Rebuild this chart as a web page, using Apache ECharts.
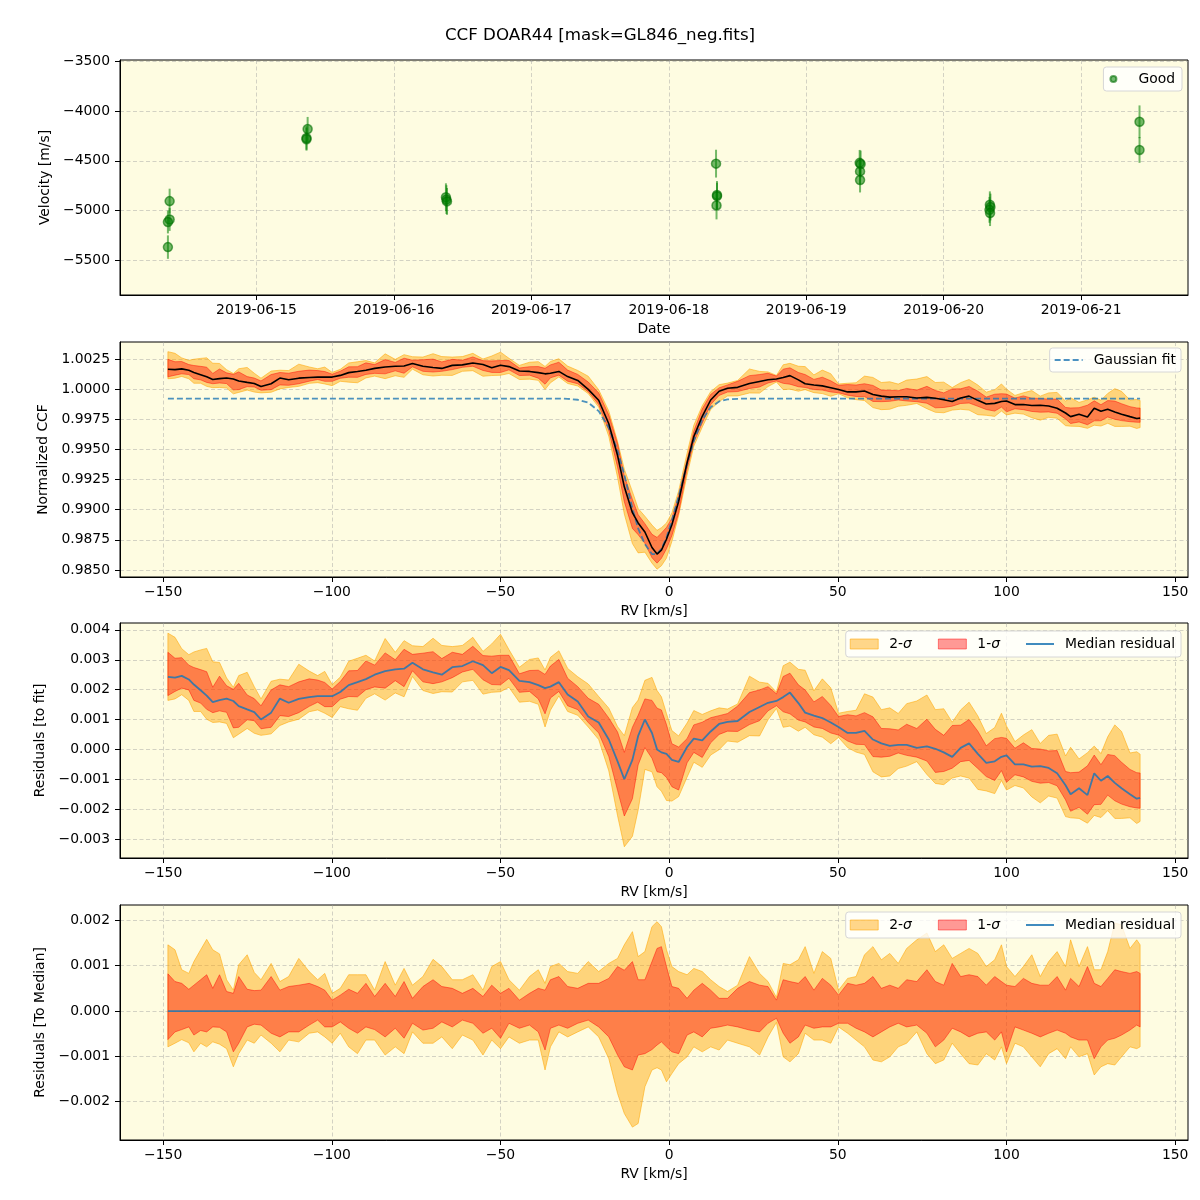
<!DOCTYPE html>
<html><head><meta charset="utf-8">
<script src="https://cdn.jsdelivr.net/npm/echarts@6/dist/echarts.min.js"></script>
<style>html,body{margin:0;padding:0;background:#fff}#c{width:1200px;height:1200px}</style>
</head><body><div id="c"></div>
<script>
// ---------- Panel 1: RV time series ----------
const RV_DATES = [
  '2019-06-14T08:50:00Z','2019-06-14T08:50:00Z','2019-06-14T08:32:00Z','2019-06-14T08:32:00Z',
  '2019-06-15T08:56:00Z','2019-06-15T08:44:00Z','2019-06-15T08:44:00Z',
  '2019-06-16T09:05:00Z','2019-06-16T09:10:00Z','2019-06-16T09:16:00Z',
  '2019-06-18T08:15:00Z','2019-06-18T08:25:00Z','2019-06-18T08:25:00Z','2019-06-18T08:20:00Z',
  '2019-06-19T09:20:00Z','2019-06-19T09:30:00Z','2019-06-19T09:24:00Z','2019-06-19T09:24:00Z',
  '2019-06-20T08:04:00Z','2019-06-20T08:10:00Z','2019-06-20T08:00:00Z','2019-06-20T08:06:00Z',
  '2019-06-21T10:12:00Z','2019-06-21T10:12:00Z'
];
const RV_VALUES = [-4905,-5090,-5115,-5368, -4180,-4270,-4282, -4866,-4890,-4908,
  -4528,-4843,-4855,-4949, -4520,-4532,-4606,-4693, -4942,-4965,-4993,-5026, -4107,-4390];
const RV_ERRORS = [125,115,115,118, 122,118,115, 140,145,135,
  140,140,135,140, 130,135,130,125, 135,135,130,130, 165,130];

// ---------- Panels 2-4: CCF grid ----------
const RV_KMS = [-148.6,-146.5,-144.5,-142.4,-140.9,-138.9,-137.1,-135.3,-133.3,-131.2,-129.2,-127.6,-125.1,-123.0,-121.0,
 -118.0,-115.4,-112.8,-109.8,-106.7,-104.2,-102.1,-99.9,
 -97.5,-95.0,-92.4,-89.9,-87.3,-84.2,-81.2,-78.6,
 -76.1,-73.0,-70.0,-67.4,-64.3,-61.3,-58.2,
 -55.2,-52.6,-50.0,-47.5,-44.4,-41.4,-38.8,-36.8,
 -35.2,-32.7,-30.1,-27.1,-24.0,-20.9,-17.9,
 -15.3,-13.3,-10.9,-9.2,-7.2,-5.1,-3.6,
 -2.3,-0.8,0.8,2.8,5.3,7.3,9.8,
 12.3,14.8,17.3,20.3,23.8,26.8,29.3,
 31.8,33.8,35.8,38.3,40.3,42.9,45.4,47.9,
 50.2,52.9,55.4,57.9,60.4,62.9,65.4,67.9,
 70.4,73.4,76.4,78.9,81.4,83.9,86.4,88.9,
 91.5,94.0,96.5,98.5,100.0,102.5,105.0,107.5,
 110.0,112.5,115.0,117.5,119.0,121.5,124.0,126.0,
 128.0,130.0,132.1,134.1,136.6,138.6,139.6];

// median residual to the Gaussian fit, in units of 1e-3
const MEDIAN_RES = [2.43,2.40,2.46,2.34,2.17,1.98,1.80,1.58,1.65,1.70,1.62,1.45,1.34,1.25,1.00,
 1.23,1.70,1.56,1.69,1.75,1.78,1.78,1.78,
 1.92,2.15,2.25,2.35,2.50,2.62,2.68,2.70,
 2.90,2.68,2.58,2.50,2.75,2.79,2.95,
 2.82,2.55,2.76,2.65,2.29,2.25,2.15,2.05,
 2.10,2.25,1.84,1.60,1.10,0.90,0.33,
 -0.40,-1.00,-0.35,0.45,1.00,0.55,0.00,
 -0.10,-0.15,-0.35,-0.42,0.08,0.36,0.30,
 0.60,0.85,0.92,0.95,1.25,1.42,1.56,
 1.62,1.75,1.90,1.55,1.23,1.13,1.05,0.90,
 0.75,0.55,0.55,0.62,0.33,0.20,0.12,0.15,
 0.15,0.05,0.10,0.02,-0.10,-0.25,0.05,0.20,
 -0.15,-0.45,-0.40,-0.25,-0.20,-0.50,-0.50,-0.58,
 -0.56,-0.62,-0.80,-1.20,-1.50,-1.30,-1.53,-0.80,
 -1.05,-0.89,-1.12,-1.30,-1.50,-1.65,-1.62];

// band edges relative to the median, in units of 1e-3
const UP_2SIG = [1.46,1.35,0.91,0.83,1.09,1.35,1.58,1.35,1.26,0.69,0.46,1.02,1.24,0.85,0.69,
 1.05,0.65,0.76,1.16,0.87,0.69,0.83,0.39,
 0.50,0.80,0.80,0.80,0.46,1.09,0.57,0.94,
 0.57,0.76,1.14,0.98,0.69,0.69,0.80,
 0.46,0.98,1.09,0.69,0.46,0.76,0.91,0.61,
 0.98,1.05,0.87,0.83,1.09,0.87,1.05,
 1.16,1.46,1.75,1.20,1.31,1.86,1.97,
 1.86,1.35,0.98,0.87,0.80,0.94,0.87,
 0.69,0.54,0.43,0.57,1.20,0.83,0.65,
 0.30,1.05,1.02,1.13,1.42,0.83,1.31,1.16,
 0.46,0.72,0.76,1.24,1.42,1.13,1.27,1.05,
 1.38,1.57,1.72,1.31,1.46,1.16,1.27,1.38,
 1.27,0.98,1.13,1.46,0.98,0.76,0.98,1.24,
 0.76,1.09,1.31,0.98,1.57,0.98,1.42,0.91,
 0.91,1.31,1.94,1.90,1.38,1.57,1.46];
const UP_1SIG = [0.82,0.65,0.61,0.48,0.57,0.69,0.80,0.50,0.80,0.43,0.39,0.76,0.48,0.45,0.46,
 0.76,0.46,0.54,0.57,0.61,0.54,0.46,0.24,
 0.35,0.48,0.39,0.61,0.32,0.61,0.32,0.65,
 0.28,0.54,0.69,0.54,0.50,0.39,0.50,
 0.32,0.57,0.39,0.50,0.24,0.39,0.50,0.46,
 0.69,0.76,0.54,0.50,0.61,0.61,0.72,
 0.98,0.90,1.09,0.69,0.69,1.09,1.38,
 1.42,0.98,0.54,0.50,0.28,0.46,0.61,
 0.46,0.28,0.28,0.50,0.65,0.57,0.54,
 0.24,0.69,0.65,0.61,0.76,0.46,0.72,0.57,
 0.35,0.61,0.57,0.61,0.76,0.50,0.57,0.50,
 0.69,0.65,0.91,0.65,0.57,1.05,0.76,0.80,
 0.76,0.57,0.76,0.65,0.57,0.54,0.72,0.61,
 0.57,0.57,0.76,0.46,0.72,0.54,0.98,0.61,
 0.54,0.72,0.91,0.87,0.83,0.87,0.83];
const LO_1SIG = [-0.63,-0.46,-0.41,-0.35,-0.53,-0.43,-0.46,-0.35,-0.36,-0.46,-0.90,-0.71,-0.35,-0.29,-0.31,
 -0.49,-0.57,-0.46,-0.46,-0.31,-0.20,-0.35,-0.35,
 -0.24,-0.38,-0.49,-0.35,-0.41,-0.57,-0.38,-0.60,
 -0.27,-0.42,-0.38,-0.24,-0.35,-0.20,-0.27,
 -0.49,-0.38,-0.60,-0.27,-0.38,-0.31,-0.46,-0.86,
 -0.38,-0.31,-0.38,-0.27,-0.20,-0.35,-0.57,
 -0.97,-1.23,-1.30,-0.97,-0.94,-0.85,-0.75,
 -0.68,-0.79,-0.90,-0.94,-0.53,-0.46,-0.57,
 -0.38,-0.35,-0.31,-0.35,-0.42,-0.46,-0.27,
 -0.16,-0.49,-0.71,-0.57,-0.31,-0.38,-0.35,-0.35,
 -0.27,-0.27,-0.38,-0.46,-0.57,-0.46,-0.35,-0.27,
 -0.35,-0.31,-0.49,-0.79,-0.64,-0.38,-0.46,-0.57,
 -0.49,-0.46,-0.64,-0.46,-0.90,-0.35,-0.42,-0.49,
 -0.57,-0.49,-0.42,-0.49,-0.57,-0.64,-0.64,-1.05,
 -0.79,-0.64,-0.60,-0.53,-0.42,-0.31,-0.35];
const LO_2SIG = [-0.79,-0.71,-0.63,-0.70,-0.90,-0.71,-0.79,-0.68,-0.73,-0.83,-1.23,-0.94,-0.64,-0.71,-0.53,
 -0.71,-0.90,-0.64,-0.68,-0.49,-0.46,-0.57,-0.71,
 -0.49,-0.79,-0.94,-0.64,-0.64,-0.97,-0.79,-0.94,
 -0.46,-0.71,-0.71,-0.57,-0.83,-0.53,-0.64,
 -0.97,-0.64,-0.83,-0.57,-0.71,-0.64,-0.64,-1.30,
 -0.79,-0.46,-0.57,-0.46,-0.35,-0.57,-1.05,
 -1.82,-2.26,-2.56,-2.48,-1.67,-1.30,-1.25,
 -1.30,-1.56,-1.38,-1.16,-1.01,-0.79,-0.90,
 -0.79,-0.86,-0.64,-0.71,-0.79,-0.97,-0.57,
 -0.25,-1.01,-1.12,-0.94,-0.49,-0.64,-0.64,-0.71,
 -0.35,-0.49,-0.64,-0.79,-1.08,-1.12,-1.01,-0.79,
 -0.71,-0.46,-0.94,-1.16,-1.08,-0.71,-0.94,-1.16,
 -1.19,-0.94,-1.08,-0.79,-1.16,-0.71,-0.79,-1.01,
 -1.23,-0.94,-0.83,-1.05,-0.79,-1.01,-0.94,-1.41,
 -1.23,-1.16,-1.19,-1.01,-0.79,-0.83,-0.79];

// Gaussian fit
const GAUSS_FIT = [0.99922,0.99922,0.99922,0.99922,0.99922,0.99922,0.99922,0.99922,0.99922,0.99922,0.99922,0.99922,0.99922,0.99922,0.99922,
 0.99922,0.99922,0.99922,0.99922,0.99922,0.99922,0.99922,0.99922,
 0.99922,0.99922,0.99922,0.99922,0.99922,0.99922,0.99922,0.99922,
 0.99922,0.99922,0.99922,0.99922,0.99922,0.99922,0.99922,
 0.99922,0.99922,0.99922,0.99922,0.99922,0.99922,0.99922,0.99922,
 0.99922,0.99922,0.99920,0.99912,0.99888,0.99818,0.99680,
 0.99490,0.99290,0.99010,0.98845,0.98715,0.98632,0.98632,
 0.98675,0.98770,0.98910,0.99110,0.99380,0.99570,0.99745,
 0.99850,0.99898,0.99915,0.99920,0.99922,0.99922,0.99922,
 0.99922,0.99922,0.99922,0.99922,0.99922,0.99922,0.99922,0.99922,
 0.99922,0.99922,0.99922,0.99922,0.99922,0.99922,0.99922,0.99922,
 0.99922,0.99922,0.99922,0.99922,0.99922,0.99922,0.99922,0.99922,
 0.99922,0.99922,0.99922,0.99922,0.99922,0.99922,0.99922,0.99922,
 0.99922,0.99922,0.99922,0.99922,0.99922,0.99922,0.99922,0.99922,
 0.99922,0.99922,0.99922,0.99922,0.99922,0.99922,0.99922];

// tick labels
const DATE_TICKS = ['2019-06-15','2019-06-16','2019-06-17','2019-06-18','2019-06-19','2019-06-20','2019-06-21'];
const VEL_TICKS = [-5500,-5000,-4500,-4000,-3500];
const RV_TICKS = [-150,-100,-50,0,50,100,150];
const CCF_TICKS = [0.9850,0.9875,0.9900,0.9925,0.9950,0.9975,1.0000,1.0025];
const RESFIT_TICKS = [-0.003,-0.002,-0.001,0.000,0.001,0.002,0.003,0.004];
const RESMED_TICKS = [-0.002,-0.001,0.000,0.001,0.002];

// ---------- derived ----------
const K = 1e-3;
const res = (i, off) => (MEDIAN_RES[i] + off) * K;
const P3 = {
  med: RV_KMS.map((x,i)=>res(i,0)),
  u2: RV_KMS.map((x,i)=>res(i,UP_2SIG[i])), u1: RV_KMS.map((x,i)=>res(i,UP_1SIG[i])),
  l1: RV_KMS.map((x,i)=>res(i,LO_1SIG[i])), l2: RV_KMS.map((x,i)=>res(i,LO_2SIG[i]))
};
const P2 = {};
for (const k in P3) P2[k] = P3[k].map((v,i)=>v + GAUSS_FIT[i]);
const P4 = {
  u2: UP_2SIG.map(v=>v*K), u1: UP_1SIG.map(v=>v*K), l1: LO_1SIG.map(v=>v*K), l2: LO_2SIG.map(v=>v*K),
  med: MEDIAN_RES.map(m=>(m-m)*K)
};

// ---------- styling ----------
const FONT = 'DejaVu Sans';
const FS = 13.9;
const BG = '#FEFCE1';
const C2 = 'rgba(255,165,0,0.45)', C2E = 'rgba(255,165,0,0.55)';
const C1 = 'rgba(255,0,0,0.4)', C1E = 'rgba(255,0,0,0.45)';
const BLUE = 'rgba(31,119,180,0.85)';
const GRIDLINE = {color:'rgba(160,160,160,0.5)', type:[4,2.5], width:0.9};
const LINE_ICON = 'path://M0,0H28V2H0Z';
const DASH_ICON = 'path://M0,0H6V2H0Z M9,0H15V2H9Z M18,0H24V2H18Z M27,0H28V2H27Z';

function fmtNum(dec){ return v => { if (Math.abs(v) < 1e-12) v = 0; return v.toFixed(dec).replace('-', '\u2212'); }; }
const txt = {fontFamily:FONT, fontSize:FS, color:'#000'};

function gridBox(top){ return {left:120, top, width:1068, height:235, show:true, backgroundColor:BG, borderColor:'#000', borderWidth:1}; }

function valAxis(kind, gi, o){
  return {
    type:'value', gridIndex:gi, min:o.min, max:o.max, scale:true,
    minInterval:o.step, maxInterval:o.step,
    name:o.name, nameLocation:'middle', nameGap:o.gap, nameRotate: kind==='y'?90:0,
    nameTextStyle: txt,
    axisLine:{show:true, onZero:false, lineStyle:{color:'#000', width:1}},
    axisTick:{show:true, inside:false, length:5, customValues:o.ticks, lineStyle:{color:'#000', width:1}},
    axisLabel:{show:true, customValues:o.ticks, formatter:o.fmt, margin:o.margin, color:'#000', fontFamily:FONT, fontSize:FS},
    splitLine:{show:true, lineStyle:GRIDLINE}
  };
}

const DAY = 86400000;
const dateTickVals = DATE_TICKS.map(d=>Date.parse(d+'T00:00:00Z'));
const dateFmt = v => new Date(v).toISOString().slice(0,10);

const xAxes = [
  valAxis('x',0,{min:Date.parse('2019-06-14T00:10:00Z'), max:Date.parse('2019-06-21T18:40:00Z'), step:DAY,
    ticks:dateTickVals, fmt:dateFmt, name:'Date', gap:27, margin:8}),
  valAxis('x',1,{min:-162.8, max:153.8, step:50, ticks:RV_TICKS, fmt:fmtNum(0), name:'RV [km/s]', gap:27, margin:8}),
  valAxis('x',2,{min:-162.8, max:153.8, step:50, ticks:RV_TICKS, fmt:fmtNum(0), name:'RV [km/s]', gap:27, margin:8}),
  valAxis('x',3,{min:-162.8, max:153.8, step:50, ticks:RV_TICKS, fmt:fmtNum(0), name:'RV [km/s]', gap:27, margin:8})
];
const yAxes = [
  valAxis('y',0,{min:-5850, max:-3485, step:500, ticks:VEL_TICKS, fmt:fmtNum(0), name:'Velocity [m/s]', gap:63, margin:10}),
  valAxis('y',1,{min:0.98442, max:1.00391, step:0.0025, ticks:CCF_TICKS, fmt:fmtNum(4), name:'Normalized CCF', gap:65, margin:10}),
  valAxis('y',2,{min:-0.003635, max:0.00423, step:0.001, ticks:RESFIT_TICKS, fmt:fmtNum(3), name:'Residuals [to fit]', gap:68, margin:10}),
  valAxis('y',3,{min:-0.002844, max:0.002338, step:0.001, ticks:RESMED_TICKS, fmt:fmtNum(3), name:'Residuals [To Median]', gap:68, margin:10})
];

function band(gi, name, lo, hi, fill, edge){
  return {
    type:'custom', name, xAxisIndex:gi, yAxisIndex:gi, silent:true, clip:true, z:2,
    itemStyle:{color:fill},
    data: RV_KMS.map((x,i)=>[x, lo[i], hi[i]]),
    renderItem: function(params, api){
      if (params.dataIndex !== 0) return null;
      const pts = [];
      for (let i=0;i<RV_KMS.length;i++) pts.push(api.coord([RV_KMS[i], hi[i]]));
      for (let i=RV_KMS.length-1;i>=0;i--) pts.push(api.coord([RV_KMS[i], lo[i]]));
      return {type:'polygon', shape:{points:pts}, style:{fill:fill, stroke:edge, lineWidth:1}};
    }
  };
}
function line(gi, name, ys, color, width, dash, z){
  return {type:'line', name, xAxisIndex:gi, yAxisIndex:gi, silent:true, symbol:'none', showSymbol:false, z:z||5,
    data: RV_KMS.map((x,i)=>[x, ys[i]]),
    itemStyle:{color}, lineStyle:{color, width, type: dash || 'solid'}};
}

const series = [
  {type:'custom', xAxisIndex:0, yAxisIndex:0, silent:true, z:2,
   data: RV_DATES.map((d,i)=>[Date.parse(d), RV_VALUES[i], RV_ERRORS[i]]),
   renderItem:(p, api)=>{
     const t=api.value(0), v=api.value(1), e=api.value(2);
     const a=api.coord([t, v-e]), b=api.coord([t, v+e]);
     return {type:'line', shape:{x1:a[0], y1:a[1], x2:b[0], y2:b[1]}, style:{stroke:'rgba(0,128,0,0.55)', lineWidth:2}};
   }},
  {type:'scatter', name:'Good', xAxisIndex:0, yAxisIndex:0, silent:true, z:3, symbol:'circle', symbolSize:9,
   data: RV_DATES.map((d,i)=>[Date.parse(d), RV_VALUES[i]]),
   itemStyle:{color:'rgba(0,128,0,0.55)', borderColor:'rgba(0,110,0,0.6)', borderWidth:1.5, opacity:1}},

  band(1, 'p2-2s', P2.l2, P2.u2, C2, C2E),
  band(1, 'p2-1s', P2.l1, P2.u1, C1, C1E),
  line(1, 'Gaussian fit', GAUSS_FIT, 'rgba(31,119,180,0.8)', 1.8, [6,3], 4),
  line(1, 'p2-med', P2.med, '#000000', 1.6, null, 5),

  band(2, '2-σ', P3.l2, P3.u2, C2, C2E),
  band(2, '1-σ', P3.l1, P3.u1, C1, C1E),
  line(2, 'Median residual', P3.med, BLUE, 1.8, null, 5),

  band(3, '2-σ', P4.l2, P4.u2, C2, C2E),
  band(3, '1-σ', P4.l1, P4.u1, C1, C1E),
  line(3, 'Median residual', P4.med, BLUE, 1.8, null, 5)
];

const legendBase = {
  orient:'horizontal', selectedMode:false, backgroundColor:'rgba(255,255,255,0.8)',
  borderColor:'#d6d6d6', borderWidth:1, borderRadius:3, symbolKeepAspect:true,
  textStyle:{fontFamily:FONT, fontSize:FS, color:'#000', padding:[0,0,0,6],
    rich:{i:{fontFamily:FONT, fontSize:FS, fontStyle:'italic', color:'#000'}}},
  formatter: n => n.replace('σ', '{i|σ}')
};
const sigLegend = (top) => Object.assign({}, legendBase, {
  right:19, top, itemWidth:28, itemHeight:10, itemGap:26, padding:[6,6,6,4],
  data:[{name:'2-σ', icon:'rect', itemStyle:{color:C2, borderColor:C2E, borderWidth:1}},
        {name:'1-σ', icon:'rect', itemStyle:{color:C1, borderColor:C1E, borderWidth:1}},
        {name:'Median residual', icon:LINE_ICON, itemStyle:{color:BLUE}}]
});

const option = {
  animation:false,
  backgroundColor:'#ffffff',
  title:{text:'CCF DOAR44 [mask=GL846_neg.fits]', left:'center', top:22,
    textStyle:{fontFamily:FONT, fontSize:16.7, fontWeight:'normal', color:'#000'}},
  grid:[gridBox(60), gridBox(342), gridBox(623), gridBox(905)],
  xAxis:xAxes, yAxis:yAxes,
  legend:[
    Object.assign({}, legendBase, {right:18, top:67, itemWidth:28, itemHeight:6, padding:[5,7,5,6],
      data:[{name:'Good', icon:'circle'}]}),
    Object.assign({}, legendBase, {right:19, top:348, itemWidth:28, itemHeight:10, padding:[5,5,5,5],
      data:[{name:'Gaussian fit', icon:DASH_ICON, itemStyle:{color:'rgba(31,119,180,0.8)'}}]}),
    sigLegend(631),
    sigLegend(912)
  ],
  series
};
const chart = echarts.init(document.getElementById('c'), null, {renderer:'canvas', width:1200, height:1200});
chart.setOption(option);
</script></body></html>
